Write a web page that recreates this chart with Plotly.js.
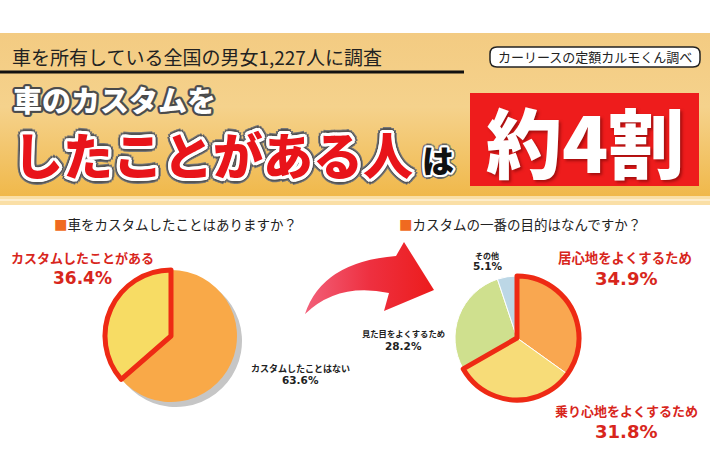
<!DOCTYPE html>
<html><head><meta charset="utf-8">
<script src="https://cdn.plot.ly/plotly-3.0.1.min.js"></script>
<style>html,body{margin:0;padding:0;background:#fff}#chart{width:710px;height:474px}</style>
</head><body><div id="chart"></div>
<script>
// ---- data ----
const q1Labels = ['カスタムしたことがある', 'カスタムしたことはない'];
const q1Values = [36.4, 63.6];
const q1Colors = ['#f7dc64', '#f9a948'];
const q2Labels = ['居心地をよくするため', '乗り心地をよくするため', '見た目をよくするため', 'その他'];
const q2Values = [34.9, 31.8, 28.2, 5.1];
const q2Colors = ['#f9a750', '#f7dc78', '#cfe08e', '#bcd7e6'];
const headerSub = '車を所有している全国の男女1,227人に調査';
const headerSource = 'カーリースの定額カルモくん調べ';
const headline1 = '車のカスタムを';
const headline2 = 'したことがある人';
const headline2b = 'は';
const headlineBox = '約4割';
const q1Title = '車をカスタムしたことはありますか？';
const q2Title = 'カスタムの一番の目的はなんですか？';

// ---- helpers ----
const W = 710, H = 474;
const fx = x => x / W, fy = y => 1 - y / H;
const JP = '"Noto Sans CJK JP", "Noto Sans", sans-serif';
const NUM = '"DejaVu Sans", "Noto Sans", sans-serif';
function outline(color, r) {
  const out = [];
  for (let a = 0; a < 360; a += 30) {
    const t = a * Math.PI / 180;
    out.push((r * Math.cos(t)).toFixed(2) + 'px ' + (r * Math.sin(t)).toFixed(2) + 'px 0 ' + color);
  }
  return out.join(', ');
}
function dom(cx, cy, r) { return {x: [fx(cx - r), fx(cx + r)], y: [fy(cy + r), fy(cy - r)]}; }
function ann(text, x, y, size, color, opts) {
  opts = opts || {};
  return {
    text: text, x: fx(x), y: fy(y), xref: 'paper', yref: 'paper', showarrow: false,
    xanchor: opts.xanchor || 'center', yanchor: 'middle', borderpad: 0,
    font: Object.assign({family: opts.family || JP, size: size, color: color, weight: opts.weight || 400}, opts.shadow ? {shadow: opts.shadow} : {})
  };
}

// ---- background artwork (gradients) ----
const svg = `<svg xmlns="http://www.w3.org/2000/svg" width="710" height="474" viewBox="0 0 710 474">
<defs>
<linearGradient id="hg" x1="0" y1="0" x2="0" y2="1">
<stop offset="0" stop-color="#f3cb82"/><stop offset="0.45" stop-color="#f5d28c"/><stop offset="1" stop-color="#f0b84a"/>
</linearGradient>
<linearGradient id="ag" x1="0" y1="0" x2="1" y2="0">
<stop offset="0" stop-color="#f2607a"/><stop offset="0.5" stop-color="#ee3040"/><stop offset="1" stop-color="#ec1c1c"/>
</linearGradient>
</defs>
<rect x="0" y="33" width="710" height="164" fill="url(#hg)"/>
<rect x="0" y="196" width="710" height="9" fill="#fadfa6"/>
<rect x="0" y="199" width="710" height="2" fill="#fdedcc"/>
<path d="M 305 314 Q 322 262 396 256 L 404 242 L 434 290 L 384 311 L 389 293 Q 338 282 305 314 Z" fill="url(#ag)"/>
</svg>`;
const svgSrc = 'data:image/svg+xml;charset=utf-8,' + encodeURIComponent(svg);

// ---- traces ----
const transparent2 = ['rgba(0,0,0,0)', 'rgba(0,0,0,0)'];
const q1Total = q1Values.reduce((a, b) => a + b, 0);
const q1Rot = -360 * q1Values[0] / q1Total; // first slice ends at 12 o'clock
const q2Highlight = [q2Values[0] + q2Values[1], q2Values[2] + q2Values[3]];
const L = dom(171, 336, 66), Ls = dom(176, 341, 66), R = dom(517, 338, 62);
const base = {type: 'pie', sort: false, textinfo: 'none', hoverinfo: 'skip', showlegend: false};
const traces = [
  Object.assign({}, base, {values: q1Values, labels: q1Labels.map(s => s + ' '), domain: Ls,
    direction: 'clockwise', rotation: q1Rot, marker: {colors: ['#c6c6c6', '#c6c6c6'], line: {width: 0}}}),
  Object.assign({}, base, {values: q1Values, labels: q1Labels, domain: L,
    direction: 'clockwise', rotation: q1Rot, marker: {colors: q1Colors, line: {width: 0}}}),
  Object.assign({}, base, {values: q1Values, labels: q1Labels.map(s => s + '  '), domain: L,
    direction: 'clockwise', rotation: q1Rot, marker: {colors: transparent2, line: {color: ['#ee2a14', 'rgba(0,0,0,0)'], width: [5, 0]}}}),
  Object.assign({}, base, {values: q2Values, labels: q2Labels, domain: R,
    direction: 'clockwise', marker: {colors: q2Colors, line: {color: '#ffffff', width: 1}}}),
  Object.assign({}, base, {values: q2Highlight, labels: ['hl', 'rest'], domain: R,
    direction: 'clockwise', marker: {colors: transparent2, line: {color: ['#ee2a14', 'rgba(0,0,0,0)'], width: [5, 0]}}})
];

const red = '#d8261c';
const sq = c => '<span style="color:#f06a20">■</span>' + c;
const annotations = [
  ann(headerSub, 11, 56, 19, '#222', {xanchor: 'left'}),
  ann(headerSource, 595, 57, 13, '#222'),
  ann(headline1, 12, 99, 29, '#ffffff', {xanchor: 'left', weight: 900, shadow: outline('#4a4a4a', 1.6) + ', ' + outline('#6a6a6a', 2.4)}),
  ann(headline2, 12, 153, 50, '#e8141a', {xanchor: 'left', weight: 900,
    shadow: outline('#ffffff', 2) + ', ' + outline('#ffffff', 3.2) + ', ' + outline('#555555', 4.6) + ', ' + outline('#777777', 5.6)}),
  ann(headline2b, 438, 159, 32, '#111', {weight: 900, shadow: outline('#ffffff', 2.4) + ', ' + outline('#666666', 3.8)}),
  ann(headlineBox, 585, 140, 76, '#ffffff', {weight: 900, shadow: '2px 2px 3px rgba(90,0,0,0.5)'}),
  ann(sq(q1Title), 175, 224, 13.5, '#222'),
  ann(sq(q2Title), 520, 224, 13.5, '#222'),
  ann(q1Labels[0], 82, 257, 13, red, {weight: 700}),
  ann(q1Values[0].toFixed(1) + '%', 82, 278, 17, red, {weight: 700, family: NUM}),
  ann(q1Labels[1], 300, 368, 9, '#222', {weight: 700}),
  ann(q1Values[1].toFixed(1) + '%', 300, 380, 10.5, '#222', {weight: 700, family: NUM}),
  ann(q2Labels[3], 487, 255, 8, '#222', {weight: 700}),
  ann(q2Values[3].toFixed(1) + '%', 488, 266, 10.5, '#222', {weight: 700, family: NUM}),
  ann(q2Labels[0], 625, 257, 13.4, red, {weight: 700}),
  ann(q2Values[0].toFixed(1) + '%', 626, 278, 18, red, {weight: 700, family: NUM}),
  ann(q2Labels[1], 626, 410, 13, red, {weight: 700}),
  ann(q2Values[1].toFixed(1) + '%', 626, 431, 18, red, {weight: 700, family: NUM}),
  ann(q2Labels[2], 403, 333, 8.3, '#222', {weight: 700}),
  ann(q2Values[2].toFixed(1) + '%', 403, 346, 10.5, '#222', {weight: 700, family: NUM})
];

function rr(x0, y0, x1, y1, r) {
  const P = (x, y) => fx(x).toFixed(5) + ',' + fy(y).toFixed(5);
  return 'M' + P(x0 + r, y0) + ' L' + P(x1 - r, y0) + ' Q' + P(x1, y0) + ' ' + P(x1, y0 + r) +
    ' L' + P(x1, y1 - r) + ' Q' + P(x1, y1) + ' ' + P(x1 - r, y1) + ' L' + P(x0 + r, y1) +
    ' Q' + P(x0, y1) + ' ' + P(x0, y1 - r) + ' L' + P(x0, y0 + r) + ' Q' + P(x0, y0) + ' ' + P(x0 + r, y0) + ' Z';
}
const shapes = [
  {type: 'line', xref: 'paper', yref: 'paper', x0: 0, x1: fx(464), y0: fy(72), y1: fy(72), line: {color: '#111', width: 3}},
  {type: 'path', xref: 'paper', yref: 'paper', path: rr(490, 47, 700, 67, 7), fillcolor: '#ffffff', line: {color: '#222', width: 1.5}},
  {type: 'rect', xref: 'paper', yref: 'paper', x0: fx(470), x1: fx(699), y0: fy(186), y1: fy(93), fillcolor: '#ee1c1c', line: {width: 0}}
];

const layout = {
  width: W, height: H, margin: {l: 0, r: 0, t: 0, b: 0},
  paper_bgcolor: '#ffffff', plot_bgcolor: '#ffffff', showlegend: false,
  images: [{source: svgSrc, xref: 'paper', yref: 'paper', x: 0, y: 1, sizex: 1, sizey: 1,
    xanchor: 'left', yanchor: 'top', sizing: 'stretch', layer: 'below'}],
  shapes: shapes, annotations: annotations
};
Plotly.newPlot('chart', traces, layout, {staticPlot: true, displayModeBar: false});
</script></body></html>
